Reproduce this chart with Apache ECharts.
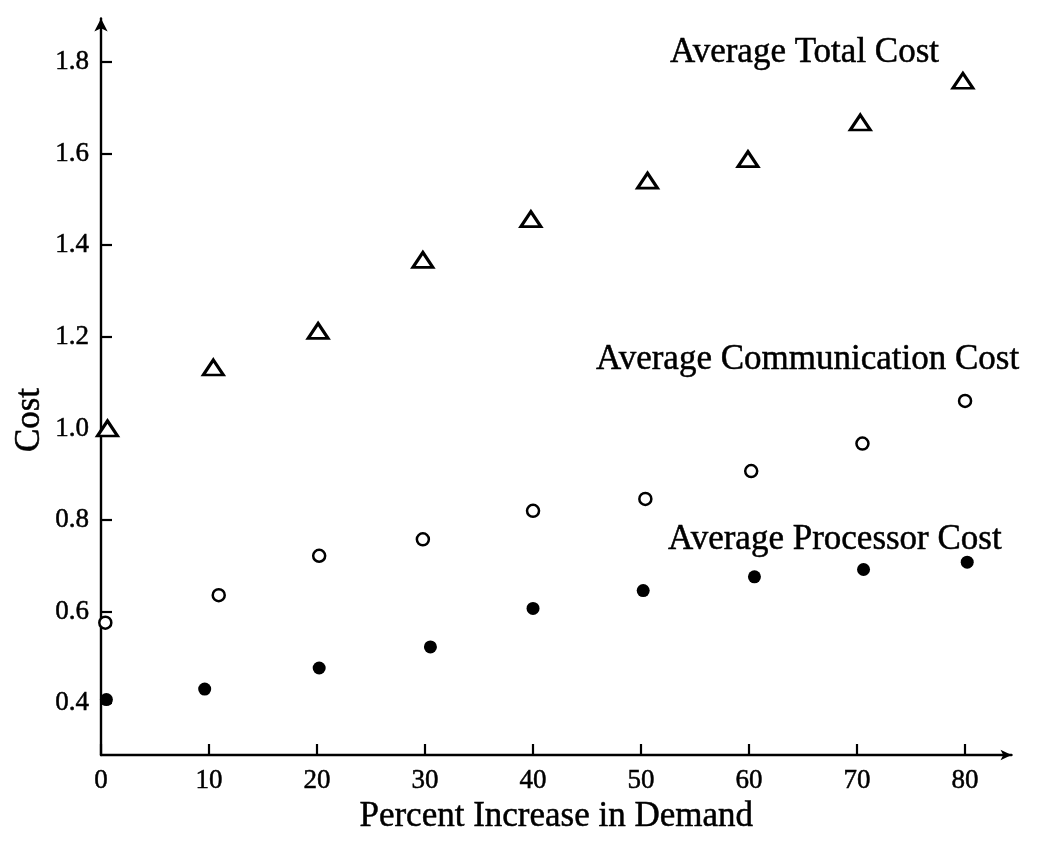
<!DOCTYPE html>
<html>
<head>
<meta charset="utf-8">
<title>Cost vs Percent Increase in Demand</title>
<script src="https://cdn.jsdelivr.net/npm/echarts@6/dist/echarts.min.js"></script>
<style>
  html, body { margin: 0; padding: 0; background: #ffffff; }
  #chart { width: 1050px; height: 849px; }
</style>
</head>
<body>
<div id="chart"></div>
<script>
// Tick values on each axis
const xTicks = [0, 10, 20, 30, 40, 50, 60, 70, 80];
const yTicks = [0.4, 0.6, 0.8, 1.0, 1.2, 1.4, 1.6, 1.8];

// Average total cost (triangles)
const demandTotal = [0.6, 10.4, 20.1, 29.8, 39.8, 50.6, 59.9, 70.3, 79.8];
const totalCost   = [1.00, 1.133, 1.213, 1.368, 1.457, 1.541, 1.588, 1.668, 1.759];

// Average communication cost (open circles)
const demandComm = [0.4, 10.9, 20.2, 29.8, 40.0, 50.4, 60.2, 70.5, 80.0];
const commCost   = [0.576, 0.636, 0.722, 0.758, 0.820, 0.846, 0.907, 0.967, 1.060];

// Average processor cost (filled circles)
const demandProc = [0.5, 9.6, 20.2, 30.5, 40.0, 50.2, 60.5, 70.6, 80.2];
const procCost   = [0.408, 0.431, 0.477, 0.523, 0.607, 0.646, 0.676, 0.692, 0.708];

const pairs = (xs, ys) => xs.map((x, i) => [x, ys[i]]);

const SERIF = '"Liberation Serif", "DejaVu Serif", serif';
const INK = '#000000';
// a thin outline of the same ink gives the printed type its weight
const inkText = { textBorderColor: INK, textBorderWidth: 0.5 };

const chart = echarts.init(document.getElementById('chart'), null, { renderer: 'canvas' });

const option = {
  backgroundColor: '#ffffff',
  animation: false,
  grid: { left: 101, right: 38.5, top: 18.5, bottom: 94, containLabel: false },
  xAxis: {
    type: 'value',
    min: 0,
    max: 84.3,
    name: 'Percent Increase in Demand',
    nameLocation: 'middle',
    nameGap: 44,
    nameTextStyle: Object.assign({ fontFamily: SERIF, fontSize: 35, color: INK }, inkText),
    axisLine: {
      show: true,
      onZero: false,
      symbol: ['none', 'arrow'],
      symbolSize: [8, 11],
      lineStyle: { color: INK, width: 2.4 }
    },
    axisTick: {
      show: true,
      inside: true,
      length: 11,
      customValues: xTicks,
      lineStyle: { color: INK, width: 2.2 }
    },
    axisLabel: Object.assign({
      customValues: xTicks,
      margin: 12,
      fontFamily: SERIF,
      fontSize: 27,
      color: INK,
      formatter: v => String(v)
    }, inkText),
    splitLine: { show: false }
  },
  yAxis: {
    type: 'value',
    min: 0.287,
    max: 1.895,
    axisLine: {
      show: true,
      onZero: false,
      symbol: ['none', 'arrow'],
      symbolSize: [10, 13],
      lineStyle: { color: INK, width: 2.4 }
    },
    axisTick: {
      show: true,
      inside: true,
      length: 11,
      customValues: yTicks,
      lineStyle: { color: INK, width: 2.2 }
    },
    axisLabel: Object.assign({
      customValues: yTicks,
      margin: 12,
      fontFamily: SERIF,
      fontSize: 27,
      color: INK,
      formatter: v => v.toFixed(1)
    }, inkText),
    splitLine: { show: false }
  },
  series: [
    {
      name: 'Average Total Cost',
      type: 'scatter',
      data: pairs(demandTotal, totalCost),
      symbol: 'triangle',
      symbolSize: [20, 15],
      itemStyle: { color: '#ffffff', borderColor: INK, borderWidth: 3, opacity: 1 },
      clip: false
    },
    {
      name: 'Average Communication Cost',
      type: 'scatter',
      data: pairs(demandComm, commCost),
      symbol: 'circle',
      symbolSize: 12,
      itemStyle: { color: '#ffffff', borderColor: INK, borderWidth: 2.5, opacity: 1 },
      clip: false
    },
    {
      name: 'Average Processor Cost',
      type: 'scatter',
      data: pairs(demandProc, procCost),
      symbol: 'circle',
      symbolSize: 13,
      itemStyle: { color: INK, opacity: 1 },
      clip: false
    }
  ],
  graphic: [
    {
      type: 'text', x: 670, y: 53,
      style: Object.assign({ text: 'Average Total Cost', fill: INK, font: '35px ' + SERIF, align: 'left', verticalAlign: 'middle', stroke: INK, lineWidth: 0.5 })
    },
    {
      type: 'text', x: 596, y: 360,
      style: { text: 'Average Communication Cost', fill: INK, font: '35px ' + SERIF, align: 'left', verticalAlign: 'middle', stroke: INK, lineWidth: 0.5 }
    },
    {
      type: 'text', x: 668, y: 540,
      style: { text: 'Average Processor Cost', fill: INK, font: '35px ' + SERIF, align: 'left', verticalAlign: 'middle', stroke: INK, lineWidth: 0.5 }
    },
    {
      type: 'text', x: 30, y: 420, rotation: Math.PI / 2,
      style: { text: 'Cost', fill: INK, font: '35px ' + SERIF, align: 'center', verticalAlign: 'middle', stroke: INK, lineWidth: 0.5 }
    }
  ]
};

chart.setOption(option);
</script>
</body>
</html>
